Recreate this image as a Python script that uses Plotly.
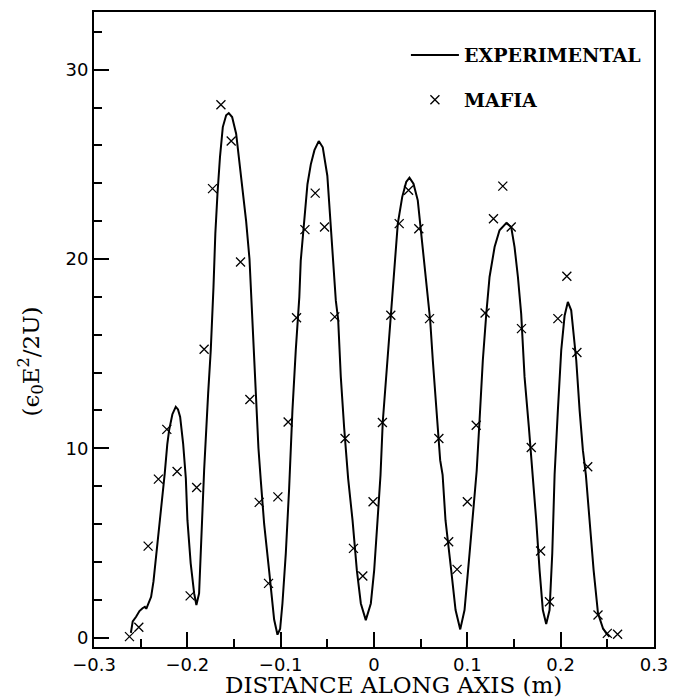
import plotly.graph_objects as go

# ---- data ----
exp_x = [-0.2605, -0.2585, -0.2549, -0.2513, -0.2480, -0.2455, -0.2440, -0.2413, -0.2388, -0.2363,
         -0.2342, -0.2313, -0.2290, -0.2267, -0.2242, -0.2215, -0.2195, -0.2160, -0.2124, -0.2100,
         -0.2077, -0.2045, -0.2016, -0.1999, -0.1964, -0.1927, -0.1903, -0.1874, -0.1857, -0.1838,
         -0.1820, -0.1777, -0.1749, -0.1720, -0.1700, -0.1677, -0.1650, -0.1620, -0.1584, -0.1556,
         -0.1520, -0.1477, -0.1442, -0.1409, -0.1370, -0.1334, -0.1290, -0.1238, -0.1213, -0.1177,
         -0.1123, -0.1070, -0.1034, -0.1006, -0.0981, -0.0945, -0.0909, -0.0874, -0.0838, -0.0800,
         -0.0785, -0.0748, -0.0713, -0.0677, -0.0638, -0.0592, -0.0549, -0.0500, -0.0469, -0.0434,
         -0.0409, -0.0384, -0.0356, -0.0320, -0.0277, -0.0230, -0.0184, -0.0141, -0.0088, -0.0034,
         0.0002, 0.0038, 0.0070, 0.0094, 0.0131, 0.0166, 0.0200, 0.0255, 0.0302, 0.0345,
         0.0380, 0.0423, 0.0469, 0.0506, 0.0541, 0.0577, 0.0602, 0.0630, 0.0666, 0.0709,
         0.0735, 0.0766, 0.0827, 0.0874, 0.0924, 0.0970, 0.1024, 0.1077, 0.1100, 0.1131,
         0.1166, 0.1203, 0.1238, 0.1292, 0.1345, 0.1417, 0.1470, 0.1506, 0.1542, 0.1577,
         0.1613, 0.1659, 0.1702, 0.1738, 0.1774, 0.1809, 0.1845, 0.1881, 0.1910, 0.1935,
         0.1970, 0.2006, 0.2042, 0.2077, 0.2113, 0.2131, 0.2167, 0.2203, 0.2238, 0.2270,
         0.2310, 0.2353, 0.2400, 0.2453, 0.2489, 0.2524]
exp_y = [0.25, 0.85, 1.10, 1.40, 1.55, 1.62, 1.52, 1.86, 2.15, 2.95,
         3.95, 4.97, 6.20, 7.43, 8.67, 10.2, 10.96, 11.80, 12.19, 12.05,
         11.66, 10.25, 8.41, 6.20, 3.92, 2.33, 1.72, 2.33, 4.45, 7.09,
         8.84, 12.9, 15.18, 18.5, 21.34, 23.45, 25.4, 26.97, 27.59, 27.71,
         27.50, 26.62, 25.2, 23.9, 22.0, 20.0, 15.5, 10.0, 8.3, 6.0,
         3.5, 0.95, 0.15, 0.45, 1.8, 4.45, 7.9, 12.0, 15.2, 18.0,
         19.9, 22.2, 23.95, 25.0, 25.75, 26.23, 25.9, 24.4, 22.3, 19.9,
         17.8, 16.8, 13.8, 11.1, 8.4, 6.2, 3.56, 1.8, 0.92, 1.8,
         3.56, 6.2, 8.6, 11.4, 13.8, 16.0, 18.6, 21.87, 23.27, 24.07,
         24.3, 23.98, 23.1, 21.34, 19.58, 17.82, 16.76, 14.65, 12.0, 9.37,
         8.6, 6.2, 3.56, 1.45, 0.43, 1.45, 4.45, 7.43, 8.8, 11.48,
         14.65, 17.1, 19.05, 20.63, 21.52, 21.9, 21.69, 20.63, 19.05, 17.1,
         13.77, 11.13, 8.6, 6.2, 3.56, 1.45, 0.71, 1.45, 4.45, 8.6,
         12.0, 15.18, 17.0, 17.73, 17.29, 16.41, 14.65, 12.0, 9.9, 8.6,
         6.2, 3.56, 1.28, 0.49, 0.22, 0.04]

mafia_x = [-0.262, -0.252, -0.242, -0.231, -0.222, -0.211, -0.197, -0.190, -0.182, -0.173,
           -0.164, -0.153, -0.143, -0.133, -0.123, -0.113, -0.103, -0.092, -0.083, -0.074,
           -0.063, -0.053, -0.042, -0.031, -0.022, -0.012, -0.001, 0.009, 0.018, 0.027,
           0.037, 0.048, 0.0595, 0.0695, 0.080, 0.089, 0.100, 0.1095, 0.119, 0.128,
           0.138, 0.147, 0.158, 0.1685, 0.1785, 0.188, 0.197, 0.2066, 0.2174, 0.229,
           0.240, 0.250, 0.261]
mafia_y = [0.05, 0.54, 4.83, 8.37, 11.0, 8.77, 2.2, 7.93, 15.23, 23.72,
           28.15, 26.23, 19.84, 12.58, 7.14, 2.86, 7.43, 11.39, 16.9, 21.55,
           23.48, 21.69, 16.94, 10.52, 4.71, 3.25, 7.17, 11.36, 17.03, 21.87,
           23.63, 21.6, 16.85, 10.52, 5.06, 3.6, 7.17, 11.22, 17.15, 22.13,
           23.85, 21.69, 16.32, 10.04, 4.57, 1.89, 16.85, 19.09, 15.06, 9.02,
           1.19, 0.22, 0.17]

x_tickvals = [-0.3, -0.2, -0.1, 0, 0.1, 0.2, 0.3]
x_ticktext = ["\u22120.3", "\u22120.2", "\u22120.1", "0", "0.1", "0.2", "0.3"]
y_tickvals = [0, 10, 20, 30]
y_ticktext = ["0", "10", "20", "30"]

SERIF = "DejaVu Serif"
SANS = "DejaVu Sans"

fig = go.Figure()
fig.add_trace(go.Scatter(
    x=exp_x, y=exp_y, mode="lines", name="EXPERIMENTAL",
    line=dict(color="black", width=2), legendgroup="a"))
fig.add_trace(go.Scatter(
    x=mafia_x, y=mafia_y, mode="markers", name="MAFIA",
    marker=dict(symbol="x-thin", size=9, color="black",
                line=dict(color="black", width=1.3)), legendgroup="b"))

axis_common = dict(
    showgrid=False, zeroline=False, showline=True, mirror=True,
    linecolor="black", linewidth=2, ticks="inside", tickcolor="black",
    tickwidth=1.5, ticklen=15, tickfont=dict(family=SANS, size=18, color="black"),
)
fig.update_xaxes(range=[-0.3, 0.3], tickmode="array", tickvals=x_tickvals,
                 ticktext=x_ticktext,
                 minor=dict(dtick=0.05, ticklen=8, tickwidth=1.5, ticks="inside",
                            tickcolor="black"),
                 **axis_common)
fig.update_yaxes(range=[-0.5, 33.05], tickmode="array", tickvals=y_tickvals,
                 ticktext=y_ticktext,
                 minor=dict(dtick=2, ticklen=8, tickwidth=1.5, ticks="inside",
                            tickcolor="black"),
                 **axis_common)

# axis titles as annotations so they sit where the reference puts them
fig.add_annotation(text="(\u03f5<sub>0</sub>E<sup>2</sup>/2U)", textangle=-90,
                   xref="paper", yref="paper", x=-0.114, y=0.45,
                   xanchor="center", yanchor="middle", showarrow=False,
                   font=dict(family=SERIF, size=23, color="black"))
fig.add_annotation(text="DISTANCE ALONG AXIS (m)",
                   xref="paper", yref="paper", x=0.535, y=-0.0605,
                   xanchor="center", yanchor="middle", showarrow=False,
                   font=dict(family=SERIF, size=23, color="black"))

# the page body has an 8px margin, so the figure starts 8px in; it fills the rest of the window
fig.update_layout(
    width=674, height=690,
    margin=dict(l=86, r=28, t=4, b=51, autoexpand=False),
    paper_bgcolor="white", plot_bgcolor="white",
    showlegend=True,
    legend=dict(x=0.557, y=0.962, xanchor="left", yanchor="top",
                bgcolor="rgba(0,0,0,0)", tracegroupgap=17, itemwidth=48,
                font=dict(family=SERIF, size=19, color="black", weight="bold")),
)

fig.write_html("out.html")
